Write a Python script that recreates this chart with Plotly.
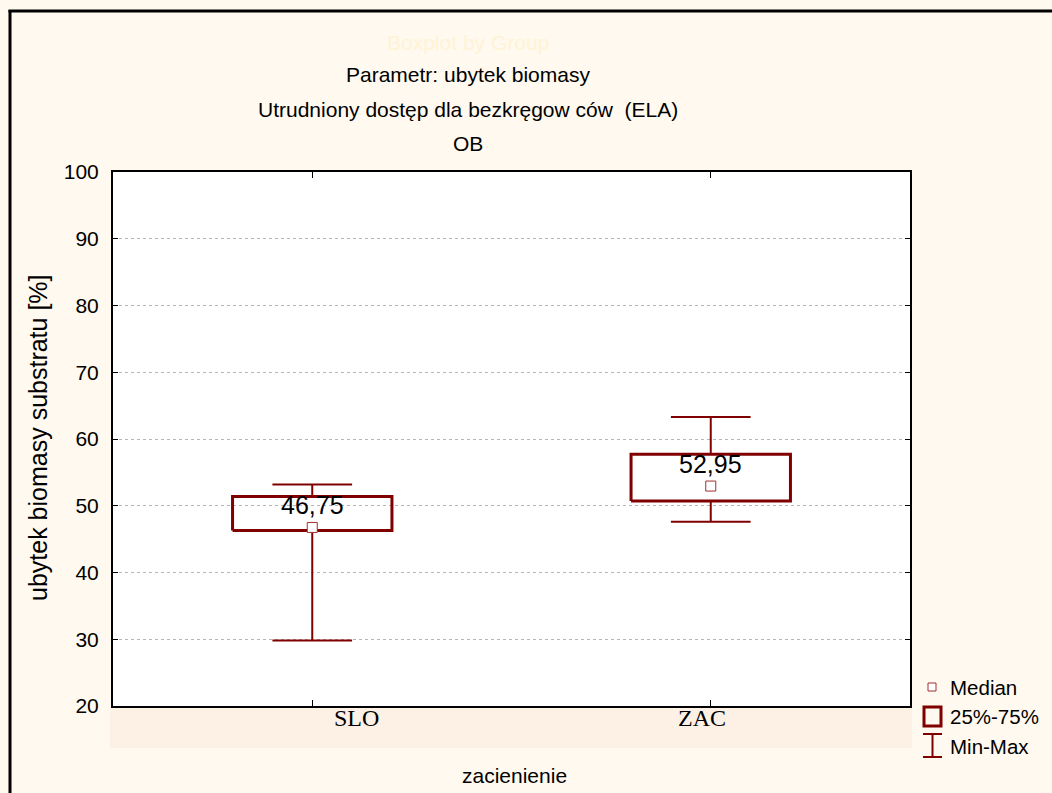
import plotly.graph_objects as go

# ---- data ----
categories = ["SLO", "ZAC"]
medians = [46.75, 52.95]
q1 = [46.3, 50.7]
q3 = [51.4, 57.7]
mins = [29.8, 47.6]
maxs = [53.2, 63.3]
y_ticks = [20, 30, 40, 50, 60, 70, 80, 90, 100]

MAROON = "#800000"
SANS = "Liberation Sans, Arial, sans-serif"
SERIF = "Liberation Serif, Times New Roman, serif"

W, H = 1052, 793
L, R, T, B = 113, 910, 172, 706


def px(x):
    return (x - L) / (R - L)


def py(y):
    return (B - y) / (B - T)


fig = go.Figure()

BOX_HALF = 0.2
CAP_HALF = 0.1

for i, cat in enumerate(categories):
    # whiskers
    fig.add_trace(go.Scatter(
        x=[i, i, None, i, i], y=[q1[i], mins[i], None, q3[i], maxs[i]],
        mode="lines", line=dict(color=MAROON, width=2), showlegend=False, hoverinfo="skip"))
    # caps
    fig.add_trace(go.Scatter(
        x=[i - CAP_HALF, i + CAP_HALF, None, i - CAP_HALF, i + CAP_HALF],
        y=[mins[i], mins[i], None, maxs[i], maxs[i]],
        mode="lines", line=dict(color=MAROON, width=2), showlegend=False, hoverinfo="skip"))
    # box
    fig.add_trace(go.Scatter(
        x=[i - BOX_HALF, i + BOX_HALF, i + BOX_HALF, i - BOX_HALF, i - BOX_HALF],
        y=[q1[i], q1[i], q3[i], q3[i], q1[i]],
        mode="lines", line=dict(color=MAROON, width=3), showlegend=False, hoverinfo="skip"))

# median markers
fig.add_trace(go.Scatter(
    x=list(range(len(categories))), y=medians, mode="markers",
    marker=dict(symbol="square", size=10, color="white", line=dict(color="#A03030", width=1)),
    showlegend=False, hoverinfo="skip"))

annotations = []
for i, m in enumerate(medians):
    annotations.append(dict(
        x=i, y=m, xref="x", yref="y", text=f"{m:.2f}".replace(".", ","),
        showarrow=False, yshift=22, font=dict(family=SANS, size=25, color="black")))

# category labels (offset as in the reference)
cat_shift = [44, -9]
for i, cat in enumerate(categories):
    annotations.append(dict(
        x=i, y=py(733), xref="x", yref="paper", text=cat, showarrow=False,
        xshift=cat_shift[i], font=dict(family=SERIF, size=24, color="black")))

# titles
titles = [("Boxplot by Group", 42, "#FFF3D6"),
          ("Parametr: ubytek biomasy", 75, "black"),
          ("Utrudniony dostęp dla bezkręgow ców  (ELA)", 110, "black"),
          ("OB", 143, "black")]
for txt, yy, col in titles:
    annotations.append(dict(
        x=px(468), y=py(yy), xref="paper", yref="paper", text=txt, showarrow=False,
        xanchor="center", yanchor="middle", font=dict(family=SANS, size=21, color=col)))

# axis titles
annotations.append(dict(
    x=px(38), y=py(438), xref="paper", yref="paper", text="ubytek biomasy substratu [%]",
    textangle=-90, showarrow=False, xanchor="center", yanchor="middle",
    font=dict(family=SANS, size=25, color="black")))
annotations.append(dict(
    x=px(514), y=py(775), xref="paper", yref="paper", text="zacienienie", showarrow=False,
    xanchor="center", yanchor="middle", font=dict(family=SANS, size=21, color="black")))

# legend (manual)
legend_items = [("Median", 687), ("25%-75%", 716), ("Min-Max", 746)]
for txt, yy in legend_items:
    annotations.append(dict(
        x=px(948), y=py(yy), xref="paper", yref="paper", text=txt, showarrow=False,
        xanchor="left", yanchor="middle", font=dict(family=SANS, size=20.5, color="black")))

shapes = [
    # pink category band
    dict(type="rect", xref="paper", yref="paper", x0=px(110), x1=px(912), y0=py(708), y1=py(748),
         fillcolor="#FDF0E5", line=dict(width=0), layer="below"),
    # outer frame
    dict(type="line", xref="paper", yref="paper", x0=px(10), x1=px(10), y0=py(10), y1=py(800),
         line=dict(color="black", width=3)),
    dict(type="line", xref="paper", yref="paper", x0=px(8.5), x1=px(1060), y0=py(11), y1=py(11),
         line=dict(color="black", width=3)),
    # legend symbols
    dict(type="rect", xref="paper", yref="paper", x0=px(928), x1=px(936), y0=py(691), y1=py(683),
         line=dict(color="#A03030", width=1), fillcolor="white"),
    dict(type="rect", xref="paper", yref="paper", x0=px(924), x1=px(941), y0=py(726), y1=py(707),
         line=dict(color=MAROON, width=3), fillcolor="rgba(0,0,0,0)"),
    dict(type="line", xref="paper", yref="paper", x0=px(932.5), x1=px(932.5), y0=py(734), y1=py(757),
         line=dict(color=MAROON, width=2)),
    dict(type="line", xref="paper", yref="paper", x0=px(923), x1=px(942), y0=py(734), y1=py(734),
         line=dict(color=MAROON, width=2)),
    dict(type="line", xref="paper", yref="paper", x0=px(923), x1=px(942), y0=py(757), y1=py(757),
         line=dict(color=MAROON, width=2)),
]

fig.update_layout(
    width=W, height=H,
    margin=dict(l=L, r=W - R, t=T, b=H - B, pad=0),
    paper_bgcolor="#FFF9EF", plot_bgcolor="white",
    showlegend=False,
    annotations=annotations, shapes=shapes,
    xaxis=dict(range=[-0.5, 1.5], tickvals=list(range(len(categories))), ticktext=["", ""],
               ticks="inside", ticklen=6, tickcolor="black", tickwidth=1,
               showline=True, linecolor="black", linewidth=2, mirror="ticks",
               showgrid=False, zeroline=False, fixedrange=True),
    yaxis=dict(range=[20, 100], tickvals=y_ticks, ticks="inside", ticklen=5, tickcolor="black",
               tickwidth=1, showline=True, linecolor="black", linewidth=2, mirror="ticks",
               showgrid=True, gridcolor="#b5b5b5", griddash="dot", gridwidth=1,
               ticklabelstandoff=8,
               zeroline=False, tickfont=dict(family=SANS, size=21, color="black"), fixedrange=True),
)

fig.write_html("out.html")
